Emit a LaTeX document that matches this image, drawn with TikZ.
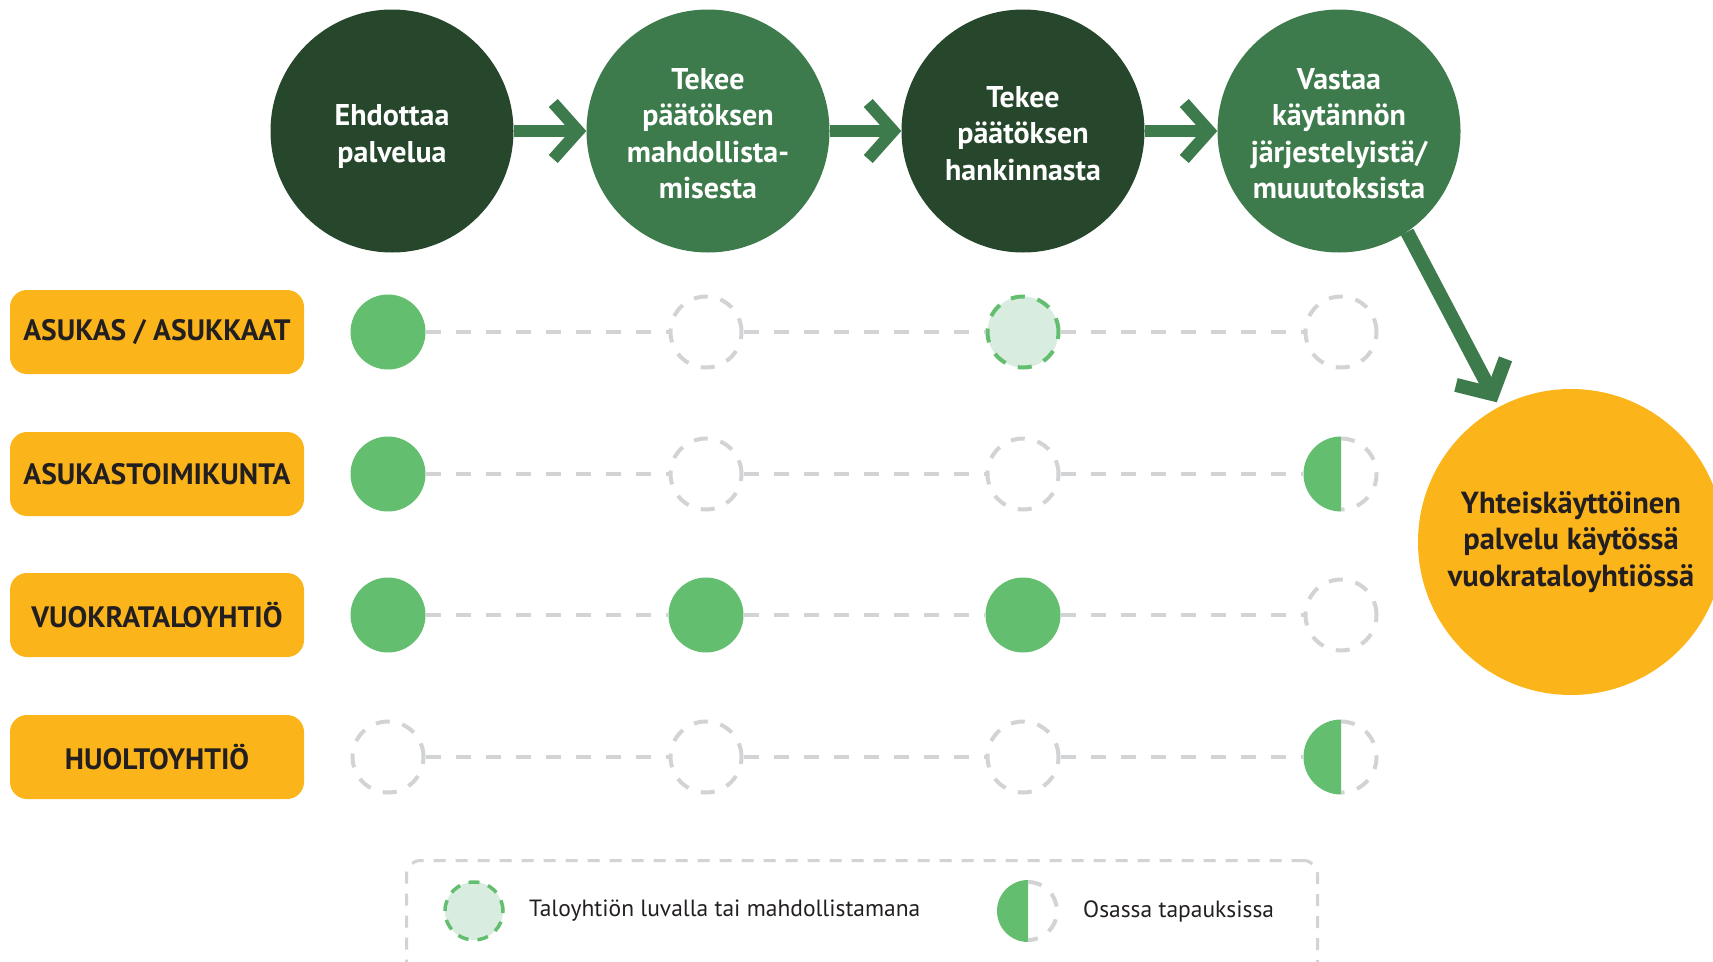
\documentclass[tikz,border=0pt]{standalone}
\usepackage{fontspec}
\setmainfont{PT Sans}
\usetikzlibrary{arrows.meta}

\definecolor{darkgreen}{HTML}{26472C}
\definecolor{midgreen}{HTML}{3E7B4C}
\definecolor{dotgreen}{HTML}{63BE6F}
\definecolor{palegreen}{HTML}{D8EDDF}
\definecolor{amber}{HTML}{FBB41A}
\definecolor{dashgray}{HTML}{D1D3D4}
\definecolor{inktext}{HTML}{231F20}

% draws the "in some cases" marker: solid left half, dashed right half
\newcommand\halfmark[2]{%
  \fill[dotgreen] (#1.center) ++(0,#2) arc[start angle=90,end angle=270,radius=#2] -- cycle;
  \draw[dashring] (#1.center) ++(0,#2-2) arc[start angle=90,end angle=-90,radius=#2-2];
}
% centred stack of lines, set slightly low in the stage circles
\newcommand\stagetext[1]{\raisebox{-5.5pt}[\height][\depth]{\begin{tabular}{@{}c@{}}#1\end{tabular}}}

\begin{document}
\begin{tikzpicture}[x=1pt,y=1pt,
  stage/.style={circle, minimum size=243pt, inner sep=0pt, text=white,
    font=\fontsize{30}{36.5}\selectfont\bfseries},
  stagedark/.style={stage, fill=darkgreen},
  stagemid/.style={stage, fill=midgreen},
  role/.style={rectangle, rounded corners=17pt, fill=amber, minimum width=294pt,
    minimum height=84pt, text=inktext, font=\fontsize{29.5}{34}\selectfont\bfseries},
  goal/.style={circle, fill=amber, minimum size=306pt, inner sep=0pt, text=inktext,
    font=\fontsize{30.5}{36.5}\selectfont\bfseries, align=center},
  dashring/.style={draw=dashgray, line width=4pt, dash pattern=on 14pt off 13pt},
  fulldot/.style={circle, minimum size=75pt, inner sep=0pt, fill=dotgreen},
  emptydot/.style={circle, minimum size=71pt, inner sep=0pt, fill=white, dashring},
  permitdot/.style={emptydot, fill=palegreen, draw=dotgreen},
  halfdot/.style={circle, minimum size=75pt, inner sep=0pt},
  rowline/.style={draw=dashgray, line width=4pt, dash pattern=on 15pt off 15pt},
  flow/.style={draw=midgreen, line width=12pt, -{Straight Barb[length=25pt,width=56pt]}},
  legendbox/.style={draw=dashgray, line width=3pt, dash pattern=on 12pt off 10pt,
    rounded corners=14pt, inner sep=0pt},
  legendtext/.style={text=inktext, font=\fontsize{23.5}{28}\selectfont, anchor=west, inner sep=0pt}
]
\useasboundingbox (0,0) rectangle (1713,-961);

% process stages
\node[stagedark] (s1) at (392,-131) {\stagetext{Ehdottaa\\palvelua}};
\node[stagemid]  (s2) at (708,-131) {\stagetext{Tekee\\päätöksen\\mahdollista-\\misesta}};
\node[stagedark] (s3) at (1023,-131) {\stagetext{Tekee\\päätöksen\\hankinnasta}};
\node[stagemid]  (s4) at (1339,-131) {\stagetext{Vastaa\\käytännön\\järjestelyistä/\\muuutoksista}};

% outcome
\node[goal] (g) at (1571,-542) {Yhteiskäyttöinen\\palvelu käytössä\\vuokrataloyhtiössä};

\draw[flow] (s1) -- (s2);
\draw[flow] (s2) -- (s3);
\draw[flow] (s3) -- (s4);
\draw[flow, line width=14pt, shorten >=5pt] (s4.-56) -- (g.118);

% actors
\node[role] (r1) at (157,-332) {ASUKAS / ASUKKAAT};
\node[role] (r2) at (157,-474) {ASUKASTOIMIKUNTA};
\node[role] (r3) at (157,-615) {VUOKRATALOYHTIÖ};
\node[role] (r4) at (157,-757) {HUOLTOYHTIÖ};

% participation matrix
\node[fulldot]   (a1) at (388,-332) {};
\node[emptydot]  (a2) at (706,-332) {};
\node[permitdot] (a3) at (1023,-332) {};
\node[emptydot]  (a4) at (1341,-332) {};

\node[fulldot]   (b1) at (388,-474) {};
\node[emptydot]  (b2) at (706,-474) {};
\node[emptydot]  (b3) at (1023,-474) {};
\node[halfdot]   (b4) at (1341,-474) {};

\node[fulldot]   (c1) at (388,-615) {};
\node[fulldot]   (c2) at (706,-615) {};
\node[fulldot]   (c3) at (1023,-615) {};
\node[emptydot]  (c4) at (1341,-615) {};

\node[emptydot]  (d1) at (388,-757) {};
\node[emptydot]  (d2) at (706,-757) {};
\node[emptydot]  (d3) at (1023,-757) {};
\node[halfdot]   (d4) at (1341,-757) {};

\halfmark{b4}{37.5}
\halfmark{d4}{37.5}

\foreach \r in {a,b,c,d}{
  \draw[rowline] (\r1) -- (\r2);
  \draw[rowline] (\r2) -- (\r3);
  \draw[rowline] (\r3) -- (\r4);
}

% legend
\node[legendbox, anchor=north west, minimum width=911pt, minimum height=140pt] (lg) at (405,-859) {};
\node[circle, minimum size=58pt, inner sep=0pt, fill=palegreen, draw=dotgreen,
  line width=3.5pt, dash pattern=on 11pt off 9pt] (k1) at (474,-911) {};
\node[legendtext] (t1) at (529,-911) {Taloyhtiön luvalla tai mahdollistamana};
\node[halfdot, minimum size=62pt] (k2) at (1028,-911) {};
\halfmark{k2}{31}
\node[legendtext] (t2) at (1083,-911) {Osassa tapauksissa};
\end{tikzpicture}
\end{document}
